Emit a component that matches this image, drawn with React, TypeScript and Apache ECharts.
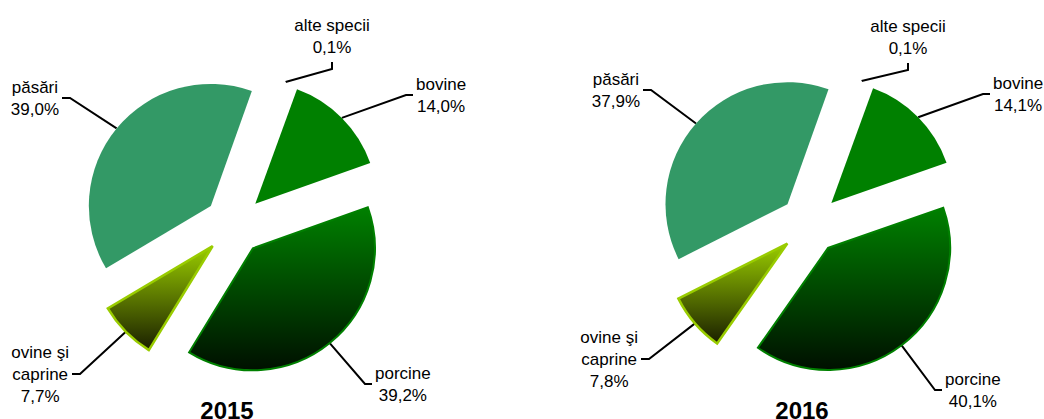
import React, { useEffect, useRef } from 'react';
import * as echarts from 'echarts';

// ---- data ----
const CATEGORIES = ['bovine', 'porcine', 'ovine şi\ncaprine', 'păsări', 'alte specii'];
const SHARES_2015 = [14.0, 39.2, 7.7, 39.0, 0.1];
const SHARES_2016 = [14.1, 40.1, 7.8, 37.9, 0.1];
const YEARS = ['2015', '2016'];

// ---- layout ----
const PIE_RADIUS = 122;
const EXPLODE = 30;
const START_ANGLE = 70; // first slice begins 20° clockwise from 12 o'clock
const CENTERS = [
  [234, 225],
  [810, 224],
];
const TITLE_X = [227, 802];
const TITLE_TOP = 398;
// where each leader line ends, and which side of the label it touches
type Anchor = { side: 'left' | 'right' | 'bottom'; x: number; y: number };
const ANCHORS: Anchor[][] = [
  [
    { side: 'left', x: 413, y: 95 },
    { side: 'left', x: 372, y: 384 },
    { side: 'right', x: 72, y: 374 },
    { side: 'right', x: 62, y: 98 },
    { side: 'bottom', x: 332, y: 62 },
  ],
  [
    { side: 'left', x: 990, y: 94 },
    { side: 'left', x: 942, y: 390 },
    { side: 'right', x: 641, y: 359 },
    { side: 'right', x: 643, y: 90 },
    { side: 'bottom', x: 908, y: 63 },
  ],
];

const FONT = "'Liberation Sans', Arial, sans-serif";

function vGrad(top: string, bottom: string) {
  return new echarts.graphic.LinearGradient(0, 0, 0, 1, [
    { offset: 0, color: top },
    { offset: 1, color: bottom },
  ]);
}

function sliceStyle(i: number) {
  switch (i) {
    case 0:
      return { color: '#008000' };
    case 1:
      return {
        color: vGrad('#008000', '#001000'),
        borderColor: '#008000',
        borderWidth: 2,
        borderJoin: 'miter',
      };
    case 2:
      return {
        color: vGrad('#9acd00', '#1a1f00'),
        borderColor: '#99cc00',
        borderWidth: 2.5,
        borderJoin: 'miter',
      };
    case 3:
      return { color: '#339966' };
    default:
      return { color: '#ffffff' };
  }
}

function fmtShare(v: number) {
  return v.toFixed(1).replace('.', ',') + '%';
}

function buildSeries(shares: number[], chartIdx: number) {
  const center = CENTERS[chartIdx];
  const anchors = ANCHORS[chartIdx];
  const data = CATEGORIES.map((name, i) => ({ name, value: shares[i] }));
  const slices = {
    type: 'pie',
    center,
    radius: PIE_RADIUS,
    startAngle: START_ANGLE,
    clockwise: true,
    selectedMode: 'multiple',
    selectedOffset: EXPLODE,
    silent: true,
    avoidLabelOverlap: false,
    emphasis: { disabled: true },
    label: { show: false },
    labelLine: { show: false },
    data: data.map((d, i) => ({ ...d, selected: true, itemStyle: sliceStyle(i) })),
  };
  const labels = {
    type: 'pie',
    center,
    radius: PIE_RADIUS + EXPLODE,
    startAngle: START_ANGLE,
    clockwise: true,
    silent: true,
    avoidLabelOverlap: false,
    emphasis: { disabled: true },
    itemStyle: { color: 'rgba(0,0,0,0)' },
    label: {
      show: true,
      position: 'outside',
      formatter: (p: any) => `${p.name}\n${fmtShare(p.value)}`,
      fontFamily: FONT,
      fontSize: 17,
      lineHeight: 22,
      color: '#000',
      align: 'center',
    },
    labelLine: {
      show: true,
      length: 10,
      length2: 10,
      lineStyle: { color: '#000', width: 2 },
    },
    labelLayout: (params: any) => {
      const a = anchors[params.dataIndex];
      const w = params.labelRect.width;
      const h = params.labelRect.height;
      const start = params.labelLinePoints ? params.labelLinePoints[0] : [a.x, a.y];
      let x = a.x;
      let y = a.y;
      let elbow: number[];
      if (a.side === 'left') {
        x = a.x + 3 + w / 2;
        elbow = [a.x - 7, a.y];
      } else if (a.side === 'right') {
        x = a.x - 3 - w / 2;
        elbow = [a.x + 8, a.y];
      } else {
        y = a.y - 4 - h / 2;
        elbow = [a.x, a.y + 7];
      }
      return {
        x,
        y,
        align: 'center',
        verticalAlign: 'middle',
        labelLinePoints: [start, elbow, [a.x, a.y]],
      };
    },
    data,
  };
  return [slices, labels];
}

export default function App() {
  const ref = useRef<HTMLDivElement>(null);
  useEffect(() => {
    const chart = echarts.init(ref.current as HTMLDivElement, null, { renderer: 'svg' });
    const option: any = {
      animation: false,
      backgroundColor: '#ffffff',
      title: YEARS.map((yr, i) => ({
        text: yr,
        left: TITLE_X[i],
        top: TITLE_TOP,
        padding: 0,
        textAlign: 'center',
        textStyle: { fontFamily: FONT, fontSize: 24, fontWeight: 'bold', color: '#000' },
      })),
      series: [...buildSeries(SHARES_2015, 0), ...buildSeries(SHARES_2016, 1)],
    };
    chart.setOption(option);
    return () => chart.dispose();
  }, []);
  return (
    <div
      ref={ref}
      style={{ position: 'absolute', left: 0, top: 0, width: 1044, height: 419, background: '#fff' }}
    />
  );
}
